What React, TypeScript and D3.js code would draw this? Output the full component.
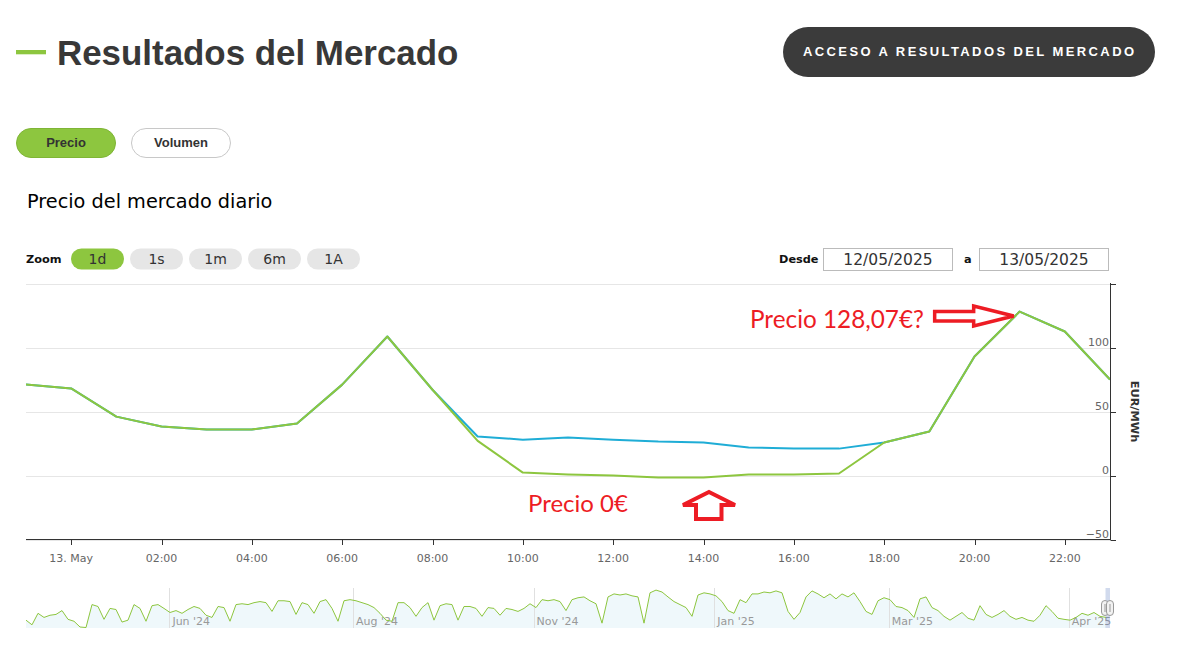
import React from 'react';
import * as d3 from 'd3';

// ---------- DATA ----------
const hourStamps = [
  '2025-05-12T23:00', '2025-05-13T00:00', '2025-05-13T01:00', '2025-05-13T02:00', '2025-05-13T03:00',
  '2025-05-13T04:00', '2025-05-13T05:00', '2025-05-13T06:00', '2025-05-13T07:00', '2025-05-13T08:00',
  '2025-05-13T09:00', '2025-05-13T10:00', '2025-05-13T11:00', '2025-05-13T12:00', '2025-05-13T13:00',
  '2025-05-13T14:00', '2025-05-13T15:00', '2025-05-13T16:00', '2025-05-13T17:00', '2025-05-13T18:00',
  '2025-05-13T19:00', '2025-05-13T20:00', '2025-05-13T21:00', '2025-05-13T22:00', '2025-05-13T23:00',
];

// green series (drawn on top)
const precioGreen = [
  71, 68, 46, 38.3, 36, 36, 40.6, 71, 108.6, 67,
  27, 2.3, 0.8, 0, -1.5, -1.5, 0.8, 0.8, 1.6, 25.8,
  34.4, 93, 128.07, 112.5, 75,
];

// blue series (underneath)
const precioBlue = [
  71, 68, 46, 38.3, 36, 36, 40.6, 71, 108.6, 67,
  30.5, 28, 29.7, 28, 26.5, 25.8, 21.9, 21, 21, 25.8,
  34.4, 93, 128.07, 112.5, 75,
];

const yTickValues = [-50, 0, 50, 100, 150];
const yLabelValues = [-50, 0, 50, 100];

// navigator series (long history)
const navPrices = [
  36, 19, 61, 46, 54, 57, 71, 39, 32, 11,
  9, 93, 86, 39, 79, 75, 29, 36, 93, 79,
  32, 89, 93, 79, 64, 71, 61, 75, 86, 79,
  54, 46, 86, 82, 32, 93, 96, 93, 100, 104,
  100, 68, 107, 107, 104, 57, 100, 93, 61, 104,
  111, 79, 32, 107, 111, 107, 100, 93, 82, 61,
  36, 32, 100, 100, 82, 50, 82, 100, 36, 89,
  96, 93, 36, 86, 86, 79, 50, 82, 79, 54,
  79, 75, 68, 79, 96, 82, 111, 107, 111, 104,
  71, 111, 118, 121, 107, 96, 25, 121, 132, 128,
  132, 125, 121, 25, 136, 146, 139, 121, 104, 93,
  82, 50, 128, 136, 132, 125, 104, 71, 61, 111,
  100, 132, 132, 139, 136, 143, 136, 68, 39, 64,
  121, 143, 132, 118, 132, 114, 132, 121, 136, 104,
  68, 57, 107, 118, 111, 86, 82, 71, 46, 114,
  121, 82, 71, 50, 36, 50, 64, 43, 36, 89,
  57, 46, 57, 71, 50, 39, 46, 36, 32, 54,
  89, 68, 43, 39, 36, 46, 61, 54, 64, 50,
  46,
];
const navTickLabels = ["Jun '24", "Aug '24", "Nov '24", "Jan '25", "Mar '25", "Apr '25"];
const navTickIndex = [23.9, 54.5, 84.6, 114.7, 143.8, 173.8];

const zoomButtons = ['1d', '1s', '1m', '6m', '1A'];
const tabButtons = ['Precio', 'Volumen'];
const dateFrom = '12/05/2025';
const dateTo = '13/05/2025';

// ---------- COMPONENT ----------
const GREEN = '#8dc63f';
const BLUE = '#1fadd6';
const RED = '#ed1c24';
const CHART_FONT = '"DejaVu Sans", Verdana, sans-serif';
const ARIAL = '"Liberation Sans", Arial, sans-serif';

export default function App() {
  const times = hourStamps.map((s) => new Date(s));
  const x = d3.scaleTime().domain([times[0], times[times.length - 1]]).range([26, 1110]);
  const y = d3.scaleLinear().domain([-50, 150]).range([539.5, 283.5]);

  const line = d3
    .line<number>()
    .x((_, i) => x(times[i]))
    .y((d) => y(d));

  const xTicks = x.ticks(d3.timeHour.every(2) as any);
  const fmtTick = (d: Date) => (d.getHours() === 0 ? d3.timeFormat('%d. %b')(d) : d3.timeFormat('%H:%M')(d));

  const nx = d3.scaleLinear().domain([0, navPrices.length - 1]).range([26, 1106]);
  const ny = d3.scaleLinear().domain([0, 150]).range([630, 589]);
  const navLine = d3
    .line<number>()
    .x((_, i) => nx(i))
    .y((d) => ny(d));
  const navArea = d3
    .area<number>()
    .x((_, i) => nx(i))
    .y0(628)
    .y1((d) => ny(d));

  const zoomBand = d3.scaleBand().domain(zoomButtons).range([71, 360]).paddingInner(0.1017);
  const tabBand = d3.scaleBand().domain(tabButtons).range([16, 231]).paddingInner(0.13);

  // annotation anchors
  const peakIdx = precioGreen.indexOf(d3.max(precioGreen) as number);
  const rTipX = x(times[peakIdx]) - 6;
  const rTipY = y(precioGreen[peakIdx]) + 4.5;
  const rightArrow = `M${rTipX - 79},${rTipY - 4.5} L${rTipX - 40},${rTipY - 4.5} L${rTipX - 40},${rTipY - 10} L${rTipX},${rTipY} L${rTipX - 40},${rTipY + 10} L${rTipX - 40},${rTipY + 5} L${rTipX - 79},${rTipY + 5} Z`;

  const minIdx = 15; // 14:00
  const uTipX = x(times[minIdx]) + 5.5;
  const uTipY = y(0) + 16.5;
  const upArrow = `M${uTipX},${uTipY} L${uTipX + 26},${uTipY + 13} L${uTipX + 12.5},${uTipY + 13} L${uTipX + 12.5},${uTipY + 27} L${uTipX - 13},${uTipY + 27} L${uTipX - 13},${uTipY + 13} L${uTipX - 26},${uTipY + 13} Z`;

  return (
    <svg width={1186} height={655} style={{ position: 'absolute', left: 0, top: 0, background: '#fff' }}>
      <defs>
        <clipPath id="plotClip">
          <rect x={26} y={280} width={1084} height={262} />
        </clipPath>
      </defs>

      {/* Header */}
      <rect x={16} y={50} width={30} height={4.3} fill={GREEN} />
      <text x={57} y={65} fontFamily={ARIAL} fontWeight="bold" fontSize={34.9} fill="#383838">
        Resultados del Mercado
      </text>
      <rect x={783} y={27} width={372} height={50} rx={25} fill="#3b3b3b" />
      <text x={803} y={56} fontFamily={ARIAL} fontWeight="bold" fontSize={13} letterSpacing={2.4} fill="#fff">
        ACCESO A RESULTADOS DEL MERCADO
      </text>

      {/* Tabs */}
      {tabButtons.map((t, i) => (
        <g key={t}>
          <rect
            x={tabBand(t)! + 0.5}
            y={128.5}
            width={tabBand.bandwidth() - 1}
            height={29}
            rx={14.5}
            fill={i === 0 ? GREEN : '#fff'}
            stroke={i === 0 ? '#7fb536' : '#c8c8c8'}
            strokeWidth={1}
          />
          <text
            x={tabBand(t)! + tabBand.bandwidth() / 2}
            y={147}
            textAnchor="middle"
            fontFamily={ARIAL}
            fontWeight="bold"
            fontSize={13}
            fill="#333"
          >
            {t}
          </text>
        </g>
      ))}

      <text x={27} y={207.5} fontFamily={CHART_FONT} fontSize={19.3} fill="#000">
        Precio del mercado diario
      </text>

      {/* Zoom row */}
      <text x={26} y={263} fontFamily={CHART_FONT} fontWeight="bold" fontSize={11.3} fill="#111">
        Zoom
      </text>
      {zoomButtons.map((b, i) => (
        <g key={b}>
          <rect x={zoomBand(b)!} y={248.5} width={zoomBand.bandwidth()} height={21} rx={10.5} fill={i === 0 ? GREEN : '#e6e6e6'} />
          <text
            x={zoomBand(b)! + zoomBand.bandwidth() / 2}
            y={264}
            textAnchor="middle"
            fontFamily={CHART_FONT}
            fontSize={14}
            fill="#333"
          >
            {b}
          </text>
        </g>
      ))}

      <text x={779} y={263} fontFamily={CHART_FONT} fontWeight="bold" fontSize={11.3} fill="#111">
        Desde
      </text>
      <rect x={823.5} y={248.5} width={129} height={22} fill="#fff" stroke="#bbb" />
      <text x={888} y={265} textAnchor="middle" fontFamily={CHART_FONT} fontSize={15.5} fill="#333">
        {dateFrom}
      </text>
      <text x={964} y={263} fontFamily={CHART_FONT} fontWeight="bold" fontSize={11.3} fill="#111">
        a
      </text>
      <rect x={979.5} y={248.5} width={129} height={22} fill="#fff" stroke="#bbb" />
      <text x={1044} y={265} textAnchor="middle" fontFamily={CHART_FONT} fontSize={15.5} fill="#333">
        {dateTo}
      </text>

      {/* Gridlines */}
      {yTickValues.map((v) => (
        <line key={'g' + v} x1={26} x2={1110} y1={Math.round(y(v)) + 0.5} y2={Math.round(y(v)) + 0.5} stroke="#e6e6e6" />
      ))}

      {/* Series */}
      <g clipPath="url(#plotClip)">
        <path d={line(precioBlue)!} fill="none" stroke={BLUE} strokeWidth={2} strokeLinejoin="round" />
        <path d={line(precioGreen)!} fill="none" stroke={GREEN} strokeWidth={2} strokeLinejoin="round" />
      </g>

      {/* X axis */}
      <line x1={26} x2={1110} y1={539.5} y2={539.5} stroke="#333" />
      {xTicks.map((t) => (
        <g key={+t}>
          <line x1={Math.round(x(t)) + 0.5} x2={Math.round(x(t)) + 0.5} y1={539.5} y2={545} stroke="#333" />
          <text x={x(t)} y={562} textAnchor="middle" fontFamily={CHART_FONT} fontSize={11} fill="#666">
            {fmtTick(t)}
          </text>
        </g>
      ))}

      {/* Y axis (right) */}
      <line x1={1110.5} x2={1110.5} y1={283} y2={540} stroke="#333" />
      {yTickValues.map((v) => (
        <line key={'t' + v} x1={1110.5} x2={1116} y1={Math.round(y(v)) + 0.5} y2={Math.round(y(v)) + 0.5} stroke="#333" />
      ))}
      {yLabelValues.map((v) => (
        <text key={'l' + v} x={1109} y={y(v) - 2} textAnchor="end" fontFamily={CHART_FONT} fontSize={11} fill="#666">
          {v < 0 ? '\u2212' + Math.abs(v) : v}
        </text>
      ))}
      <text
        transform={`translate(1135,${y(50)}) rotate(90)`}
        textAnchor="middle"
        dy="0.35em"
        fontFamily={CHART_FONT}
        fontWeight="bold"
        fontSize={11.3}
        fill="#333"
      >
        EUR/MWh
      </text>

      {/* Annotations */}
      <text x={750} y={328} fontFamily="Lato, sans-serif" fontSize={24.3} fill={RED}>
        Precio 128,07€?
      </text>
      <path d={rightArrow} fill="#fff" stroke={RED} strokeWidth={3.5} strokeLinejoin="miter" />
      <text x={528} y={512} fontFamily="Lato, sans-serif" fontSize={24} fill={RED}>
        Precio 0€
      </text>
      <path d={upArrow} fill="#fff" stroke={RED} strokeWidth={4} strokeLinejoin="miter" />

      {/* Navigator */}
      <path d={navArea(navPrices)!} fill="#eff8fb" />
      {navTickIndex.map((ti, i) => (
        <g key={navTickLabels[i]}>
          <line x1={Math.round(nx(ti)) + 0.5} x2={Math.round(nx(ti)) + 0.5} y1={588} y2={628} stroke="#e0e0e0" />
          <text x={nx(ti) + 3} y={625} fontFamily={CHART_FONT} fontSize={11} fill="#999">
            {navTickLabels[i]}
          </text>
        </g>
      ))}
      <path d={navLine(navPrices)!} fill="none" stroke={GREEN} strokeWidth={1} />
      <rect x={1105.5} y={588} width={4.5} height={40} fill="rgba(102,133,194,0.3)" />
      <rect x={1101.5} y={600.5} width={7} height={15} rx={3.5} fill="#f2f2f2" stroke="#999" />
      <rect x={1106.5} y={600.5} width={7} height={15} rx={3.5} fill="#f2f2f2" stroke="#999" />
      <line x1={1105} x2={1105} y1={604} y2={612} stroke="#999" />
      <line x1={1110} x2={1110} y1={604} y2={612} stroke="#999" />
    </svg>
  );
}
